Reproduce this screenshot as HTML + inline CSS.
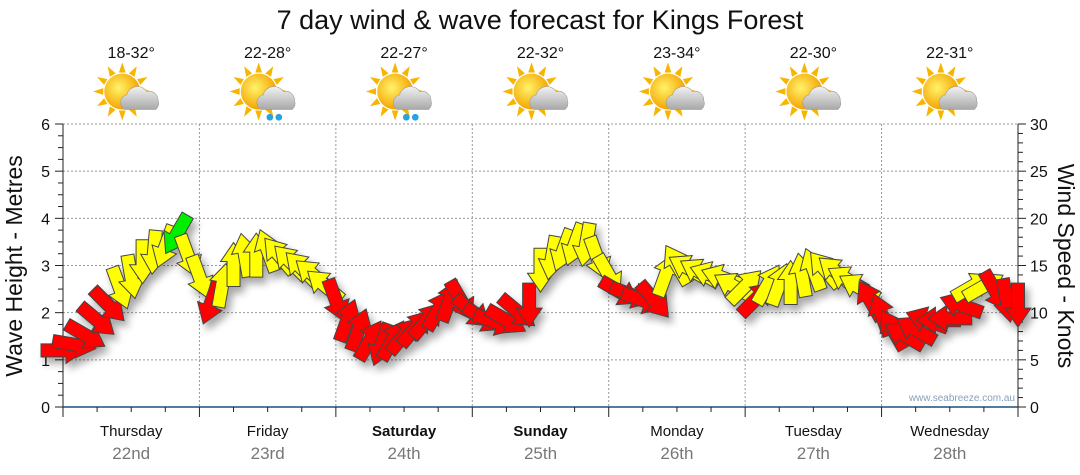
<!DOCTYPE html>
<html><head><meta charset="utf-8"><style>
html,body{margin:0;padding:0;background:#fff;}
svg{display:block;font-family:"Liberation Sans",sans-serif;}
</style></head><body>
<svg id="chart" width="1080" height="475" viewBox="0 0 1080 475" xmlns="http://www.w3.org/2000/svg">
<defs>
<filter id="sh" x="-50%" y="-50%" width="200%" height="200%"><feGaussianBlur in="SourceAlpha" stdDeviation="4"/><feOffset dx="4" dy="6"/><feComponentTransfer><feFuncA type="linear" slope="0.35"/></feComponentTransfer><feMerge><feMergeNode/><feMergeNode in="SourceGraphic"/></feMerge></filter>
<radialGradient id="sun" cx="0.4" cy="0.4" r="0.6"><stop offset="0" stop-color="#fff36a"/><stop offset="1" stop-color="#f5a300"/></radialGradient>
<linearGradient id="cloud" x1="0" y1="0" x2="0" y2="1"><stop offset="0" stop-color="#f2f2f2"/><stop offset="1" stop-color="#a8a8a8"/></linearGradient>
</defs>
<text x="540" y="29" text-anchor="middle" font-size="27" fill="#111">7 day wind &amp; wave forecast for Kings Forest</text>
<g id="grid"></g>
<g id="axes"></g>
<g id="icons"></g>
<g id="arrows" filter="url(#sh)"></g>
<text transform="translate(22,266) rotate(-90)" text-anchor="middle" font-size="23" fill="#111">Wave Height - Metres</text>
<text transform="translate(1058,266) rotate(90)" text-anchor="middle" font-size="23" fill="#111">Wind Speed - Knots</text>
<text x="1015" y="401" text-anchor="end" font-size="10" fill="#8aa0b8">www.seabreeze.com.au</text>
</svg>
<script>
const days = ["Thursday","Friday","Saturday","Sunday","Monday","Tuesday","Wednesday"];
const dates = ["22nd","23rd","24th","25th","26th","27th","28th"];
const temps = ["18-32°","22-28°","22-27°","22-32°","23-34°","22-30°","22-31°"];
const rain = [false,true,true,false,false,false,false];
const boldDays = [false,false,true,true,false,false,false];
const waveTicks = [0,1,2,3,4,5,6];
const windTicks = [0,5,10,15,20,25,30];
const hours = [0,2,4,6,8,10,12,14,16,18,20,22,24,26,28,30,32,34,36,38,40,42,44,46,48,50,52,54,56,58,60,62,64,66,68,70,72,74,76,78,80,82,84,86,88,90,92,94,96,98,100,102,104,106,108,110,112,114,116,118,120,122,124,126,128,130,132,134,136,138,140,142,144,146,148,150,152,154,156,158,160,162,164,166,168];
const windSpeed = [6.0,6.6,7.6,9.2,10.8,12.6,13.8,15.4,16.4,17.0,18.3,16.0,13.8,11.0,12.9,15.1,16.1,16.1,16.6,16.1,15.4,14.7,14.0,12.9,11.3,9.2,8.2,7.1,6.6,7.1,7.6,8.4,9.2,10.3,11.3,11.3,10.1,9.4,9.0,9.2,10.1,10.8,14.5,15.8,16.6,17.2,17.2,15.8,14.0,12.2,11.9,11.3,11.3,14.0,15.1,14.7,14.3,14.0,13.7,12.8,12.8,11.5,13.0,13.0,13.2,14.0,14.6,14.6,14.3,13.5,12.7,11.3,9.8,8.2,7.6,8.2,9.2,9.2,9.4,10.8,12.8,12.8,12.3,11.3,10.8];
const windDir = [90,100,120,130,135,160,170,180,185,200,210,160,160,200,10,0,350,0,340,320,315,315,310,310,160,20,20,30,200,30,40,40,40,30,20,150,130,120,110,120,130,180,180,190,200,200,190,160,150,120,110,110,140,20,330,300,300,290,290,300,45,45,30,20,0,350,340,320,310,300,300,330,340,330,300,300,290,270,270,290,60,60,150,170,180];

const NS="http://www.w3.org/2000/svg";
const X0=63,X1=1018,Y0=407,Y1=124;
const xs=h=>X0+(X1-X0)*h/168;
const yWave=m=>Y0-(Y0-Y1)*m/6;
const yWind=k=>Y0-(Y0-Y1)*k/30;
function mk(tag,attrs,parent){const e=document.createElementNS(NS,tag);for(const k in attrs)e.setAttribute(k,attrs[k]);parent.appendChild(e);return e;}
const grid=document.getElementById('grid'),axes=document.getElementById('axes'),icons=document.getElementById('icons'),arrows=document.getElementById('arrows');

waveTicks.forEach(m=>{
  if(m>0){const l=mk('line',{x1:X0,x2:X1,y1:yWave(m),y2:yWave(m),stroke:'#999','stroke-dasharray':'2,2'},grid);
  
  }
  const t=mk('text',{x:50,y:yWave(m)+6,'text-anchor':'end','font-size':16,fill:'#111'},axes);t.textContent=m;
  
  
});
for(let i=0;i<=24;i++){const y=Y0-(Y0-Y1)*i/24;mk('line',{x1:X0-(i%4==0?8:5),x2:X0,y1:y,y2:y,stroke:'#222'},axes);}
windTicks.forEach(k=>{
  const t=mk('text',{x:1030,y:yWind(k)+6,'font-size':16,fill:'#111'},axes);t.textContent=k;
  
  
});
for(let i=0;i<=30;i++){const y=yWind(i);mk('line',{x1:X1,x2:X1+(i%5==0?8:5),y1:y,y2:y,stroke:'#222'},axes);}
mk('line',{x1:X0,x2:X0,y1:Y1,y2:Y0,stroke:'#222'},axes);
mk('line',{x1:X1,x2:X1,y1:Y1,y2:Y0,stroke:'#222'},axes);
const xa=mk('line',{x1:X0,x2:X1,y1:Y0,y2:Y0,stroke:'#1d4f7a','stroke-width':1.5},axes);


for(let h=0;h<=168;h+=6){const x=xs(h);mk('line',{x1:x,x2:x,y1:Y0,y2:Y0+(h%24==0?10:5),stroke:'#222'},axes);}
days.forEach((d,i)=>{
  const xl=xs(i*24);
  if(i>0){const l=mk('line',{x1:xl,x2:xl,y1:Y1,y2:Y0,stroke:'#999','stroke-dasharray':'2,2'},grid);
  
  }
  const cx=xs(i*24+12);
  const t=mk('text',{x:cx,y:436,'text-anchor':'middle','font-size':15,fill:'#111','font-weight':boldDays[i]?'bold':'normal'},axes);t.textContent=d;
  
  
  const t2=mk('text',{x:cx,y:459,'text-anchor':'middle','font-size':17,fill:'#777'},axes);t2.textContent=dates[i];
  
  
  const t3=mk('text',{x:cx,y:58,'text-anchor':'middle','font-size':16,fill:'#111'},icons);t3.textContent=temps[i];
  
  
  const g=mk('g',{transform:`translate(${cx},96) scale(1.12)`},icons);
  
  
  for(let r=0;r<12;r++){const a=r*30*Math.PI/180;mk('polygon',{points:`${-8+17*Math.cos(a)-3*Math.sin(a)},${-4+17*Math.sin(a)+3*Math.cos(a)} ${-8+26*Math.cos(a)},${-4+26*Math.sin(a)} ${-8+17*Math.cos(a)+3*Math.sin(a)},${-4+17*Math.sin(a)-3*Math.cos(a)}`,fill:'#f7b500'},g);}
  mk('circle',{cx:-8,cy:-4,r:16,fill:'url(#sun)'},g);
  mk('path',{d:'M-6,12 a7,7 0 0 1 2,-13 a10,10 0 0 1 18,-3 a8,8 0 0 1 10,8 a7,7 0 0 1 -2,8 z',fill:'url(#cloud)',stroke:'#999','stroke-width':0.5},g);
  if(rain[i]){mk('circle',{cx:2,cy:19,r:3,fill:'#2aa2e0'},g);mk('circle',{cx:10,cy:19,r:3,fill:'#2aa2e0'},g);}
});

hours.forEach((h,i)=>{
  const s=windSpeed[i],d=windDir[i];
  const col=s>=18?'#00ee00':(s>=12.5?'#ffff00':'#ff0000');
  const p=mk('polygon',{points:'-6.5,-22 6.5,-22 6.5,3 13,3 0,22 -13,3 -6.5,3',fill:col,stroke:'#444','stroke-width':1,
    transform:`translate(${xs(h)},${yWind(s)}) rotate(${d+180})`},arrows);
  
  
});
</script>
</body></html>
